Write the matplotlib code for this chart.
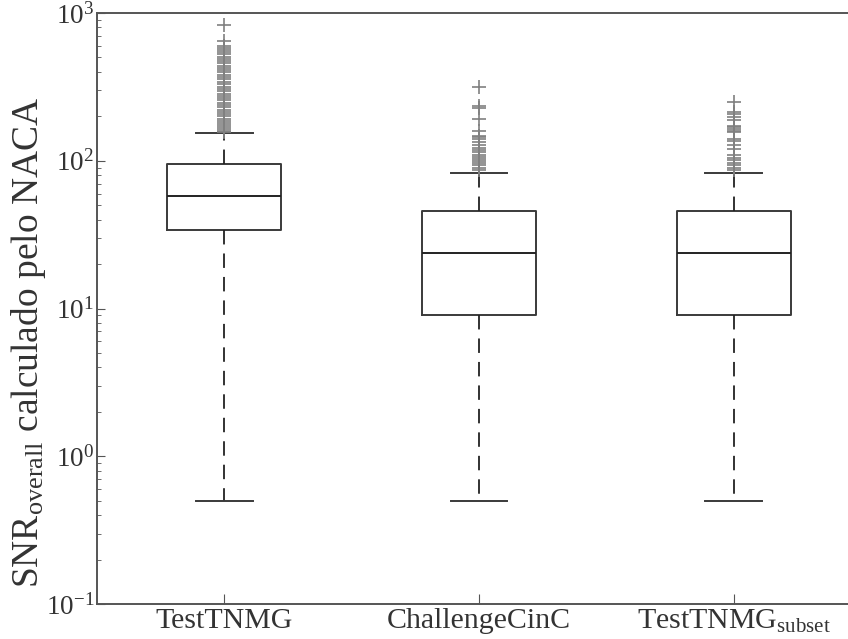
import matplotlib.pyplot as plt
import numpy as np

plt.rcParams['font.family'] = ['Liberation Serif', 'DejaVu Serif']
plt.rcParams['mathtext.fontset'] = 'custom'
plt.rcParams['mathtext.rm'] = 'Liberation Serif'
plt.rcParams['mathtext.it'] = 'Liberation Serif:italic'

labels = ['TestTNMG', 'ChallengeCinC', r'TestTNMG$_{\mathrm{subset}}$']
whislo = [0.5, 0.5, 0.5]
q1 = [34.0, 9.1, 9.1]
med = [58.0, 23.8, 23.8]
q3 = [94.6, 45.7, 45.7]
whishi = [154.8, 82.6, 82.2]
fliers_tnmg = [156, 160, 165, 170, 175, 181, 187, 193, 200, 207, 214, 222, 230,
               238, 247, 256, 265, 275, 285, 296, 307, 318, 330, 342, 355, 368,
               382, 396, 410, 425, 440, 456, 472, 489, 506, 524, 543, 560, 578,
               598, 646, 830]
fliers_cinc = [317, 235, 229, 192, 160, 148, 144, 140, 134, 128, 122, 118,
               114, 110, 106, 102, 99, 96, 93, 90, 87]
fliers_subset = [249, 215, 206, 197, 189, 173, 168, 164, 160, 156, 141, 135, 128,
                 120, 109, 105, 101, 97, 93, 90, 86.5]
fliers = [fliers_tnmg, fliers_cinc, fliers_subset]

stats = []
for i in range(3):
    stats.append(dict(label=labels[i], whislo=whislo[i], q1=q1[i], med=med[i],
                      q3=q3[i], whishi=whishi[i], fliers=fliers[i]))

fig = plt.figure(figsize=(8.48, 6.39), dpi=100)
ax = fig.add_axes([97 / 848, 1 - 604 / 639, 764 / 848, 591 / 639])

edge = '#3a3a3a'
ax.bxp(stats, positions=[1, 2, 3], widths=0.447,
       boxprops=dict(color=edge, linewidth=1.4),
       medianprops=dict(color='#222222', linewidth=1.4),
       whiskerprops=dict(color='#222222', linewidth=1.3, linestyle=(0, (8, 5))),
       capprops=dict(color=edge, linewidth=1.4),
       flierprops=dict(marker='+', markeredgecolor='#808080', markersize=10,
                       markeredgewidth=1.2, linestyle='none'))

ax.set_yscale('log')
ax.set_ylim(0.1, 1000)
ax.set_xlim(0.5, 3.5)
ax.set_xticks([1, 2, 3])
ax.set_xticklabels(labels)

ax.set_ylabel(r'SNR$_{\mathrm{overall}}$ calculado pelo NACA', fontsize=27,
              color='#333333')
ax.yaxis.set_label_coords(-0.064, 0.4425)
ax.tick_params(axis='y', which='both', direction='in', labelsize=19.5,
               labelcolor='#333333', color='#555555', pad=2)
ax.tick_params(axis='y', which='major', length=6)
ax.tick_params(axis='y', which='minor', length=3)
ax.tick_params(axis='x', direction='in', length=7, labelsize=21.5,
               labelcolor='#333333', color='#555555', pad=3)

for s in ['left', 'top', 'bottom']:
    ax.spines[s].set_color('#555555')
    ax.spines[s].set_linewidth(1.4)
ax.spines['right'].set_visible(False)

fig.savefig('out.png', dpi=100)
